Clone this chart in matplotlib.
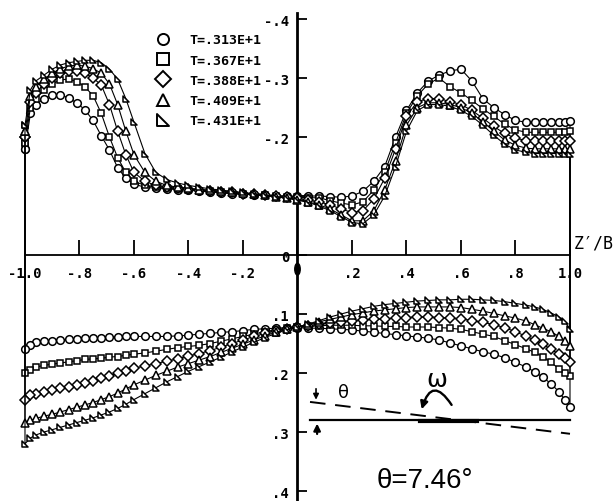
import matplotlib
matplotlib.use("Agg")
import matplotlib.pyplot as plt
import numpy as np
from matplotlib.path import Path
from matplotlib.lines import Line2D
from matplotlib.patches import Ellipse, FancyArrowPatch

# ---------------- data ----------------
labels = ["T=.313E+1", "T=.367E+1", "T=.388E+1", "T=.409E+1", "T=.431E+1"]

x_grid = [-1.0, -0.98, -0.96, -0.93, -0.90, -0.87, -0.84, -0.81, -0.78, -0.75,
          -0.72, -0.69, -0.66, -0.63, -0.60, -0.56, -0.52, -0.48, -0.44, -0.40,
          -0.36, -0.32, -0.28, -0.24, -0.20, -0.16, -0.12, -0.08, -0.04, 0.0,
          0.04, 0.08, 0.12, 0.16, 0.20, 0.24, 0.28, 0.32, 0.36, 0.40,
          0.44, 0.48, 0.52, 0.56, 0.60, 0.64, 0.68, 0.72, 0.76, 0.80,
          0.84, 0.87, 0.90, 0.93, 0.96, 0.98, 1.0]

# upper branch (negative values)
up_313 = [-0.18, -0.24, -0.255, -0.265, -0.272, -0.272, -0.266, -0.258, -0.246, -0.228,
          -0.202, -0.178, -0.148, -0.130, -0.120, -0.115, -0.113, -0.112, -0.111, -0.110,
          -0.108, -0.107, -0.105, -0.104, -0.103, -0.102, -0.101, -0.100, -0.100, -0.100,
          -0.100, -0.100, -0.099, -0.098, -0.100, -0.108, -0.125, -0.150, -0.200, -0.245,
          -0.275, -0.295, -0.305, -0.312, -0.315, -0.295, -0.265, -0.250, -0.238, -0.228,
          -0.225, -0.225, -0.225, -0.225, -0.225, -0.226, -0.227]
up_367 = [-0.19, -0.25, -0.265, -0.280, -0.290, -0.297, -0.298, -0.294, -0.285, -0.270,
          -0.240, -0.200, -0.165, -0.140, -0.125, -0.118, -0.115, -0.113, -0.112, -0.111,
          -0.109, -0.108, -0.106, -0.105, -0.104, -0.102, -0.101, -0.100, -0.099, -0.098,
          -0.097, -0.097, -0.092, -0.088, -0.085, -0.090, -0.110, -0.140, -0.190, -0.240,
          -0.270, -0.290, -0.300, -0.285, -0.275, -0.262, -0.248, -0.235, -0.222, -0.212,
          -0.208, -0.208, -0.208, -0.208, -0.208, -0.209, -0.210]
up_388 = [-0.20, -0.26, -0.275, -0.290, -0.300, -0.308, -0.312, -0.312, -0.308, -0.300,
          -0.288, -0.255, -0.210, -0.170, -0.140, -0.125, -0.118, -0.115, -0.113, -0.112,
          -0.110, -0.109, -0.107, -0.106, -0.104, -0.103, -0.101, -0.100, -0.098, -0.096,
          -0.093, -0.090, -0.085, -0.078, -0.072, -0.075, -0.095, -0.130, -0.180, -0.235,
          -0.260, -0.265, -0.265, -0.260, -0.255, -0.245, -0.232, -0.218, -0.206, -0.198,
          -0.194, -0.193, -0.193, -0.193, -0.193, -0.193, -0.194]
up_409 = [-0.21, -0.27, -0.285, -0.298, -0.308, -0.316, -0.320, -0.322, -0.320, -0.316,
          -0.308, -0.290, -0.255, -0.210, -0.170, -0.140, -0.125, -0.118, -0.115, -0.113,
          -0.111, -0.110, -0.108, -0.106, -0.105, -0.103, -0.101, -0.099, -0.097, -0.094,
          -0.090, -0.085, -0.078, -0.068, -0.058, -0.058, -0.075, -0.110, -0.160, -0.220,
          -0.250, -0.258, -0.258, -0.255, -0.250, -0.240, -0.226, -0.210, -0.195, -0.186,
          -0.181, -0.180, -0.180, -0.180, -0.180, -0.180, -0.180]
up_431 = [-0.22, -0.28, -0.295, -0.305, -0.315, -0.322, -0.326, -0.328, -0.330, -0.330,
          -0.326, -0.315, -0.298, -0.265, -0.225, -0.172, -0.140, -0.128, -0.122, -0.118,
          -0.115, -0.112, -0.110, -0.108, -0.106, -0.104, -0.102, -0.099, -0.096, -0.093,
          -0.089, -0.083, -0.075, -0.065, -0.055, -0.053, -0.068, -0.100, -0.150, -0.210,
          -0.245, -0.255, -0.255, -0.252, -0.245, -0.235, -0.220, -0.203, -0.188, -0.178,
          -0.174, -0.172, -0.172, -0.172, -0.172, -0.172, -0.172]

# lower branch (positive values)
lo_313 = [0.160, 0.152, 0.148, 0.146, 0.145, 0.144, 0.143, 0.142, 0.141, 0.140,
          0.140, 0.139, 0.139, 0.138, 0.138, 0.138, 0.138, 0.138, 0.137, 0.136,
          0.134, 0.133, 0.131, 0.130, 0.128, 0.126, 0.125, 0.124, 0.123, 0.123,
          0.124, 0.124, 0.125, 0.126, 0.127, 0.129, 0.131, 0.133, 0.135, 0.137,
          0.139, 0.141, 0.144, 0.149, 0.154, 0.159, 0.164, 0.168, 0.174, 0.182,
          0.190, 0.198, 0.207, 0.218, 0.232, 0.245, 0.258]
lo_367 = [0.200, 0.195, 0.190, 0.187, 0.185, 0.183, 0.181, 0.179, 0.177, 0.176,
          0.175, 0.173, 0.172, 0.170, 0.168, 0.166, 0.163, 0.160, 0.157, 0.155,
          0.153, 0.150, 0.146, 0.142, 0.138, 0.134, 0.130, 0.127, 0.124, 0.122,
          0.121, 0.120, 0.119, 0.119, 0.119, 0.120, 0.120, 0.121, 0.121, 0.122,
          0.122, 0.122, 0.123, 0.124, 0.126, 0.130, 0.134, 0.138, 0.145, 0.152,
          0.159, 0.165, 0.172, 0.182, 0.193, 0.200, 0.205]
lo_388 = [0.245, 0.238, 0.235, 0.232, 0.229, 0.226, 0.223, 0.220, 0.217, 0.213,
          0.209, 0.205, 0.200, 0.196, 0.192, 0.188, 0.184, 0.180, 0.176, 0.171,
          0.167, 0.162, 0.156, 0.150, 0.144, 0.138, 0.133, 0.128, 0.125, 0.122,
          0.120, 0.117, 0.115, 0.113, 0.111, 0.110, 0.109, 0.108, 0.107, 0.106,
          0.105, 0.105, 0.106, 0.107, 0.108, 0.111, 0.114, 0.118, 0.123, 0.130,
          0.138, 0.144, 0.151, 0.160, 0.168, 0.175, 0.181]
lo_409 = [0.285, 0.280, 0.277, 0.273, 0.270, 0.266, 0.262, 0.258, 0.254, 0.250,
          0.245, 0.240, 0.234, 0.227, 0.220, 0.212, 0.204, 0.197, 0.190, 0.184,
          0.178, 0.172, 0.165, 0.158, 0.151, 0.144, 0.137, 0.131, 0.126, 0.122,
          0.118, 0.113, 0.109, 0.105, 0.101, 0.098, 0.095, 0.093, 0.091, 0.089,
          0.088, 0.088, 0.088, 0.088, 0.089, 0.092, 0.095, 0.099, 0.103, 0.107,
          0.112, 0.118, 0.124, 0.130, 0.138, 0.146, 0.154]
lo_431 = [0.320, 0.310, 0.305, 0.300, 0.296, 0.292, 0.288, 0.284, 0.280, 0.276,
          0.271, 0.266, 0.260, 0.253, 0.245, 0.235, 0.225, 0.215, 0.206, 0.197,
          0.189, 0.181, 0.173, 0.164, 0.156, 0.148, 0.140, 0.133, 0.127, 0.122,
          0.117, 0.111, 0.105, 0.100, 0.095, 0.091, 0.087, 0.084, 0.082, 0.080,
          0.078, 0.077, 0.076, 0.076, 0.075, 0.075, 0.076, 0.077, 0.079, 0.082,
          0.085, 0.088, 0.092, 0.098, 0.105, 0.112, 0.125]

upper = [up_313, up_367, up_388, up_409, up_431]
lower = [lo_313, lo_367, lo_388, lo_409, lo_431]

x_ticks = [-1.0, -0.8, -0.6, -0.4, -0.2, 0.0, 0.2, 0.4, 0.6, 0.8, 1.0]
x_tick_labels = ["-1.0", "-.8", "-.6", "-.4", "-.2", "", ".2", ".4", ".6", ".8", "1.0"]
y_ticks = [-0.4, -0.3, -0.2, -0.1, 0.0, 0.1, 0.2, 0.3, 0.4]
y_tick_labels = ["-.4", "-.3", "-.2", "", "0", ".1", ".2", ".3", ".4"]

# ---------------- figure ----------------
rtri = Path([(-1, 1), (-1, -1), (1, -1), (-1, 1)],
            [Path.MOVETO, Path.LINETO, Path.LINETO, Path.CLOSEPOLY])
markers = ["o", "s", "D", "^", rtri]
msizes = [5.5, 5.0, 5.0, 5.6, 5.0]

fig = plt.figure(figsize=(6.14, 5.02), dpi=100)
ax = fig.add_axes([0, 0, 1, 1])
ax.set_facecolor("white")
ax.set_xlim(-1.0917, 1.1615)
ax.set_ylim(0.4169, -0.4339)

xg = np.array(x_grid)
for up, lo, m, ms in zip(upper, lower, markers, msizes):
    xs = np.concatenate([xg, xg[::-1], xg[:1]])
    ys = np.concatenate([np.array(up), np.array(lo)[::-1], np.array(up)[:1]])
    ax.plot(xs, ys, color="black", lw=0.8, marker=m, ms=ms,
            mfc="white", mec="black", mew=1.1, zorder=3)

# axes through origin
for s in ["top", "right"]:
    ax.spines[s].set_visible(False)
ax.spines["left"].set_position(("data", 0))
ax.spines["left"].set_bounds(-0.41, 0.4169)
ax.spines["left"].set_linewidth(2.0)
ax.spines["bottom"].set_position(("data", 0))
ax.spines["bottom"].set_bounds(-1, 1)
ax.spines["bottom"].set_linewidth(1.3)

tickfont = dict(family="DejaVu Sans Mono", weight="bold", size=10)
ax.set_xticks(x_ticks)
ax.set_xticklabels(x_tick_labels, **tickfont)
ax.set_yticks(y_ticks)
ax.set_yticklabels(y_tick_labels, **tickfont)
ax.tick_params(axis="x", direction="in", length=11, width=1.3, pad=8)
ax.tick_params(axis="y", direction="in", length=7, width=1.3, pad=6)

# origin blob
ax.add_patch(Ellipse((0.0, 0.024), 0.02, 0.02, color="black", zorder=4))

# axis title
ax.text(1.088, -0.022, "Z\u2032/B", fontsize=12, family="DejaVu Sans Mono",
        ha="center", va="center")

# legend
handles = [Line2D([], [], ls="none", marker=m, ms=8, mfc="white", mec="black", mew=1.4)
           for m in markers]
leg = ax.legend(handles, labels, loc="upper left", bbox_to_anchor=(0.225, 0.955),
                frameon=False, handletextpad=1.0, labelspacing=0.55,
                prop=dict(family="DejaVu Sans Mono", weight="bold", size=9.5))

# rotation sketch
ax.plot([0.046, 1.0], [0.28, 0.28], color="black", lw=1.6)
ax.plot([0.45, 0.66], [0.282, 0.282], color="black", lw=3.0)
ax.plot([0.046, 1.0], [0.249, 0.303], color="black", lw=1.4, ls=(0, (8, 5)))
ax.annotate("", xy=(0.068, 0.25), xytext=(0.068, 0.222),
            arrowprops=dict(arrowstyle="-|>", color="black", lw=1.2, mutation_scale=8))
ax.annotate("", xy=(0.072, 0.281), xytext=(0.072, 0.308),
            arrowprops=dict(arrowstyle="-|>", color="black", lw=1.6, mutation_scale=10))
ax.text(0.168, 0.232, "\u03b8", fontsize=13, ha="center", va="center")
ax.text(0.512, 0.210, "\u03c9", fontsize=18, ha="center", va="center")
arc = FancyArrowPatch((0.571, 0.258), (0.453, 0.266),
                      connectionstyle="arc3,rad=1.15", arrowstyle="-|>",
                      mutation_scale=11, lw=1.7, color="black")
ax.add_patch(arc)
ax.text(0.468, 0.381, "\u03b8=7.46\u00b0", fontsize=20, ha="center", va="center",
        family="Liberation Sans")

fig.savefig("out.png", dpi=100)
